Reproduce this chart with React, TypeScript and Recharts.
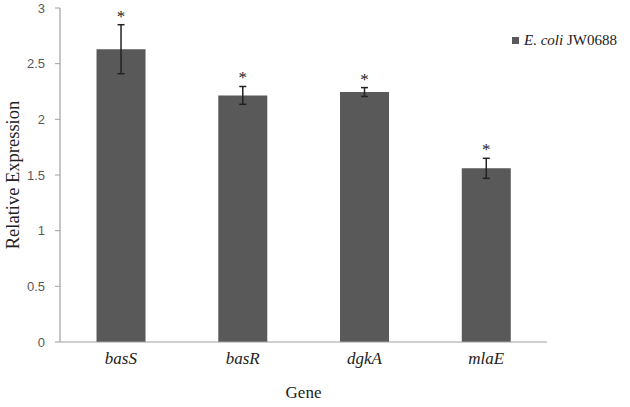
import React from "react";
import { ComposedChart, Bar, XAxis, YAxis, ErrorBar, LabelList, Label } from "recharts";

const genes = ["basS", "basR", "dgkA", "mlaE"];
const expression = [2.63, 2.215, 2.245, 1.56];
const errors = [0.22, 0.08, 0.04, 0.09];
const significance = ["*", "*", "*", "*"];
const yTicks = [0, 0.5, 1, 1.5, 2, 2.5, 3];
const seriesName = { italic: "E. coli", rest: " JW0688" };

const data = genes.map((g, i) => ({
  gene: g,
  value: expression[i],
  err: errors[i],
  sig: significance[i],
}));

const StarLabel = (props: any) => {
  const { x, y, width, height, index } = props;
  const d = data[index];
  const perUnit = height / d.value;
  const errTop = y - d.err * perUnit;
  return (
    <text
      x={x + width / 2}
      y={errTop - 3}
      textAnchor="middle"
      fontFamily="Liberation Serif"
      fontSize={17}
      fill="#222"
    >
      {d.sig}
    </text>
  );
};

const LegendBox = () => (
  <div
    style={{
      position: "absolute",
      left: 512,
      top: 32,
      display: "flex",
      alignItems: "center",
      fontFamily: "Liberation Serif",
      fontSize: 15,
      color: "#222",
      whiteSpace: "nowrap",
    }}
  >
    <span
      style={{
        display: "inline-block",
        width: 7,
        height: 7,
        background: "#595959",
        marginRight: 5,
      }}
    />
    <span>
      <i>{seriesName.italic}</i>
      {seriesName.rest}
    </span>
  </div>
);

export default function App() {
  return (
    <div style={{ position: "absolute", left: 0, top: 0, width: 630, height: 407, background: "#fff" }}>
      <ComposedChart
        width={630}
        height={407}
        data={data}
        margin={{ top: 8, right: 83, bottom: 0, left: 0 }}
        barCategoryGap="30%"
      >
        <XAxis
          dataKey="gene"
          axisLine={{ stroke: "#a0a0a0", strokeWidth: 1.2 }}
          tickLine={false}
          tickSize={0}
          tickMargin={10}
          height={65}
          tick={{
            fontFamily: "Liberation Serif",
            fontStyle: "italic",
            fontSize: 17,
            fill: "#222",
          }}
        >
          <Label
            value="Gene"
            position="insideBottom"
            offset={9}
            style={{ fontFamily: "Liberation Serif", fontSize: 17, fill: "#222" }}
          />
        </XAxis>
        <YAxis
          domain={[0, 3]}
          ticks={yTicks}
          width={60}
          axisLine={{ stroke: "#a0a0a0", strokeWidth: 1.2 }}
          tickLine={{ stroke: "#a0a0a0" }}
          tickSize={5}
          tickMargin={10}
          tick={{ fontFamily: "Liberation Sans", fontSize: 13, fill: "#595959" }}
        >
          <Label
            value="Relative Expression"
            angle={-90}
            position="insideLeft"
            offset={12}
            style={{
              textAnchor: "middle",
              fontFamily: "Liberation Serif",
              fontSize: 18.5,
              fill: "#222",
            }}
          />
        </YAxis>
        <Bar dataKey="value" fill="#595959" isAnimationActive={false}>
          <ErrorBar dataKey="err" width={3.5} stroke="#222" strokeWidth={1.5} direction="y" />
          <LabelList dataKey="sig" content={<StarLabel />} />
        </Bar>
      </ComposedChart>
      <LegendBox />
    </div>
  );
}
